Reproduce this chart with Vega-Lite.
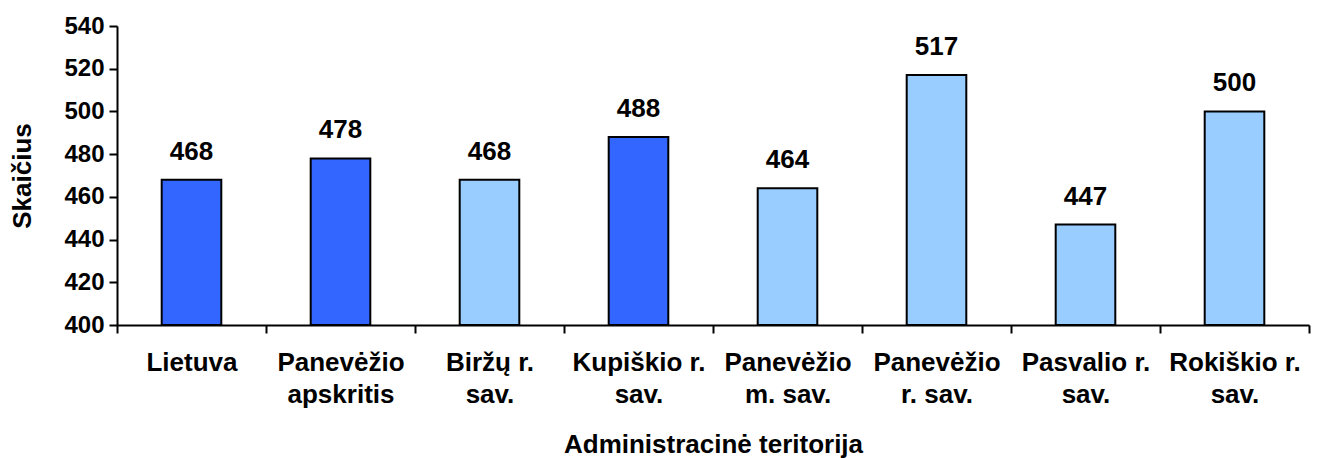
{
  "$schema": "https://vega.github.io/schema/vega-lite/v6.json",
  "autosize": "none",
  "width": 1192,
  "height": 299,
  "padding": {"left": 117, "top": 26, "right": 8, "bottom": 133},
  "background": "white",
  "config": {
    "view": {"stroke": null},
    "font": "Liberation Sans",
    "axis": {
      "labelFont": "Liberation Sans",
      "titleFont": "Liberation Sans",
      "labelFontWeight": "bold",
      "titleFontWeight": "bold",
      "labelColor": "black",
      "titleColor": "black",
      "domainColor": "black",
      "domainWidth": 2,
      "grid": false
    }
  },
  "data": {
    "values": [
      {"teritorija": "Lietuva", "skaicius": 468, "grupe": "tamsi"},
      {"teritorija": "Panevėžio apskritis", "skaicius": 478, "grupe": "tamsi"},
      {"teritorija": "Biržų r. sav.", "skaicius": 468, "grupe": "šviesi"},
      {"teritorija": "Kupiškio r. sav.", "skaicius": 488, "grupe": "tamsi"},
      {"teritorija": "Panevėžio m. sav.", "skaicius": 464, "grupe": "šviesi"},
      {"teritorija": "Panevėžio r. sav.", "skaicius": 517, "grupe": "šviesi"},
      {"teritorija": "Pasvalio r. sav.", "skaicius": 447, "grupe": "šviesi"},
      {"teritorija": "Rokiškio r. sav.", "skaicius": 500, "grupe": "šviesi"}
    ]
  },
  "encoding": {
    "x": {
      "field": "teritorija",
      "type": "nominal",
      "sort": null,
      "scale": {"paddingInner": 0, "paddingOuter": 0},
      "axis": {
        "title": "Administracinė teritorija",
        "labelAngle": 0,
        "labelFontSize": 26,
        "labelPadding": 16,
        "labelLineHeight": 32,
        "labelBaseline": "top",
        "ticks": true,
        "tickSize": 8,
        "tickWidth": 2,
        "tickColor": "black",
        "tickBand": "extent",
        "titleFontSize": 26,
        "titlePadding": 24,
        "labelExpr": "indexof(datum.label, 'Panevėžio ') == 0 ? ['Panevėžio', substring(datum.label, 10)] : indexof(datum.label, ' sav.') > 0 ? [replace(datum.label, ' sav.', ''), 'sav.'] : datum.label"
      }
    },
    "y": {
      "field": "skaicius",
      "type": "quantitative",
      "scale": {"domain": [400, 540], "zero": false, "nice": false},
      "axis": {
        "title": "Skaičius",
        "values": [400, 420, 440, 460, 480, 500, 520, 540],
        "labelFontSize": 24,
        "labelPadding": 5,
        "ticks": true,
        "tickSize": 8,
        "tickWidth": 2,
        "tickColor": "black",
        "titleFontSize": 26,
        "titlePadding": 28
      }
    }
  },
  "layer": [
    {
      "mark": {"type": "bar", "stroke": "black", "strokeWidth": 2, "width": {"band": 0.4}},
      "encoding": {
        "y2": {"datum": 400},
        "color": {
          "field": "grupe",
          "type": "nominal",
          "scale": {"domain": ["tamsi", "šviesi"], "range": ["#3366FF", "#99CCFF"]},
          "legend": null
        }
      }
    },
    {
      "mark": {"type": "text", "font": "Liberation Sans", "fontWeight": "bold", "fontSize": 26, "baseline": "alphabetic", "dy": -20, "color": "black"},
      "encoding": {
        "text": {"field": "skaicius", "type": "quantitative"}
      }
    }
  ]
}
